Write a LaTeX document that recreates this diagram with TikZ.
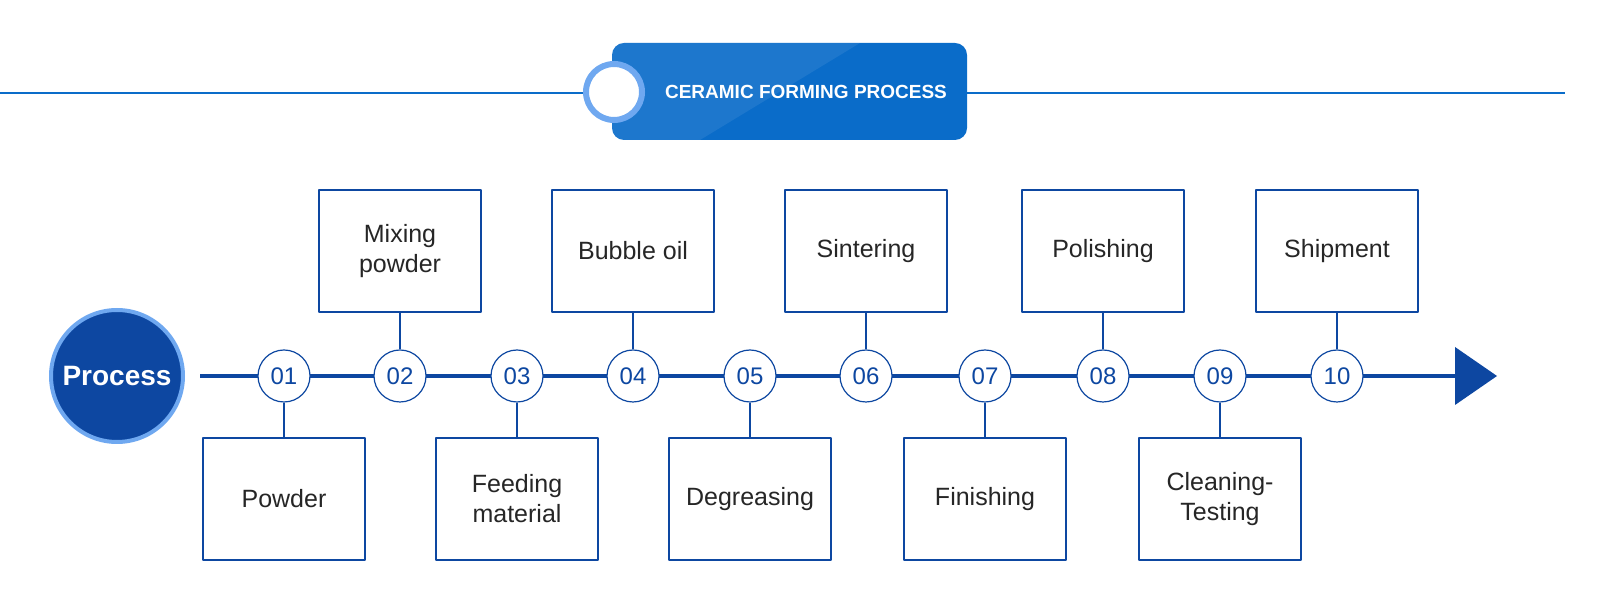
\documentclass[tikz,border=0pt]{standalone}
\usepackage{fontspec}
\setmainfont{Liberation Sans}
\usetikzlibrary{positioning}
\definecolor{navy}{HTML}{0D47A1}
\definecolor{bandblue}{HTML}{0A6CC9}
\definecolor{ringblue}{HTML}{6FA8F0}
\tikzset{
  stepnode/.style={circle, draw=navy, line width=0.6pt, fill=white, minimum size=26pt, inner sep=0pt, text=navy, font=\fontsize{12}{14}\selectfont},
  stage/.style={draw=navy, line width=1pt, fill=white, minimum width=81pt, minimum height=61pt, align=center, text=black!85, font=\fontsize{12.5}{15}\selectfont},
}
\begin{document}
\begin{tikzpicture}[x=0.5pt,y=-0.5pt,line join=round,>=stealth]
	\useasboundingbox (0,0) rectangle (1600,613);
	% Kopfzeile
	\draw [bandblue, line width=1pt] (0,93) -- (1565,93);
	\fill [bandblue, rounded corners=6pt] (612,43) rectangle (967,140);
	\fill [white, opacity=0.08] (700,140) -- (860,43) -- (612,43) -- (612,140) -- cycle;
	\node [circle, fill=white, draw=ringblue, line width=3pt, minimum size=28pt] (ring) at (614,92) {};
	\node [text=white, font=\bfseries\fontsize{9.5}{11}\selectfont] (title) at (806,92) {CERAMIC FORMING PROCESS};
	% Zeitachse
	\coordinate (tail) at (1460,376);
	\draw [navy, line width=2pt] (200,376) -- (tail);
	\fill [navy] (1455,347) -- (1497,376) -- (1455,405) -- cycle;
	\node [circle, fill=navy, draw=ringblue, line width=2pt, minimum size=66pt, text=white, font=\bfseries\fontsize{14}{16}\selectfont] (proc) at (117,376) {Process};
	% Schritte
	\foreach \n/\x in {01/284,02/400,03/517,04/633,05/750,06/866,07/985,08/1103,09/1220,10/1337}
		\node [stepnode] (s\n) at (\x,376) {\n};
	% oben
	\foreach \n/\t in {02/{Mixing\\powder},04/{Bubble oil},06/{Sintering},08/{Polishing},10/{Shipment}} {
		\node [stage, above=31.5pt of s\n.center, anchor=south] (b\n) {\t};
		\draw [navy, line width=1pt] (b\n) -- (s\n);
	}
	% unten
	\foreach \n/\t in {01/{Powder},03/{Feeding\\material},05/{Degreasing},07/{Finishing},09/{Cleaning-\\Testing}} {
		\node [stage, below=30.5pt of s\n.center, anchor=north] (b\n) {\t};
		\draw [navy, line width=1pt] (b\n) -- (s\n);
	}
\end{tikzpicture}
\end{document}
